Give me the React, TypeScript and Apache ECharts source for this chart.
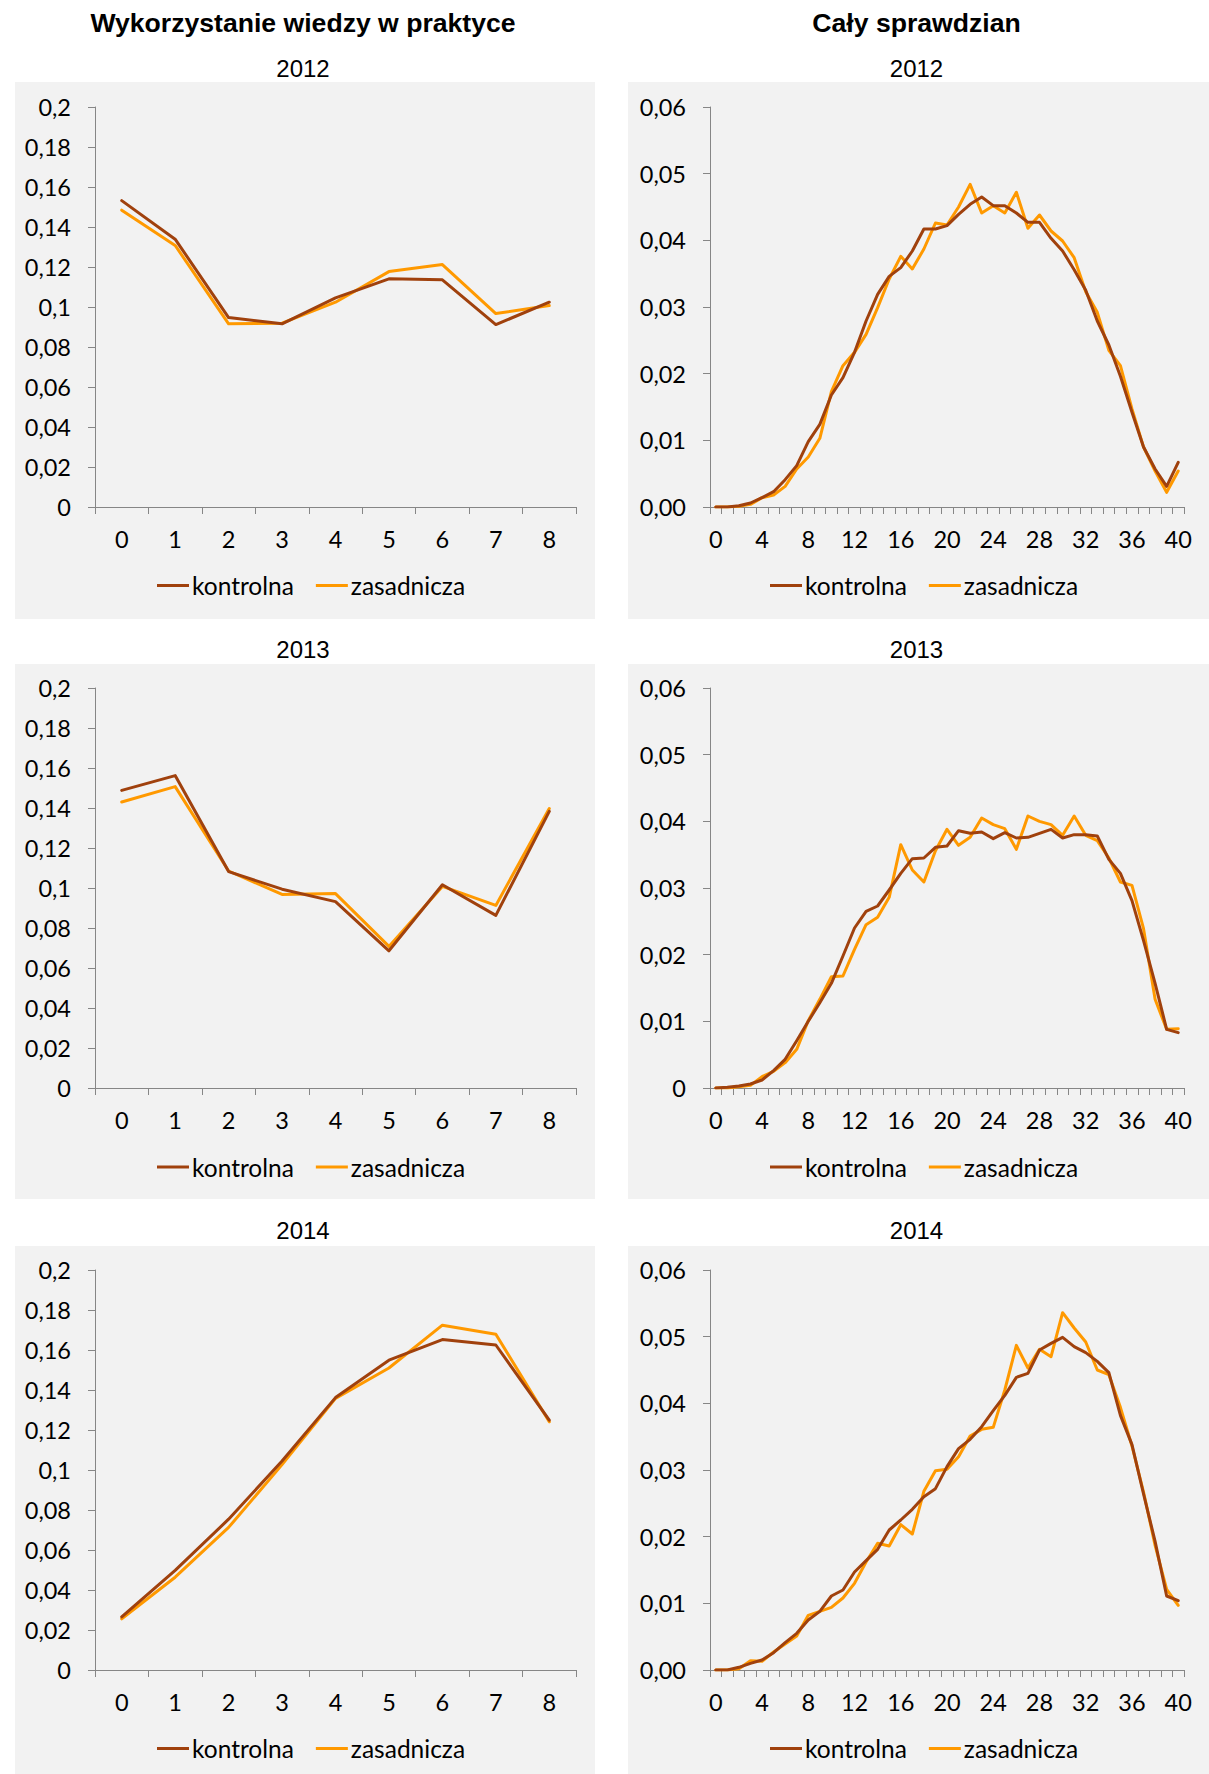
import React, { useEffect, useRef } from "react";
import * as echarts from "echarts";

// ---------- DATA ----------
const CAT_LEFT = ["0", "1", "2", "3", "4", "5", "6", "7", "8"];
const CAT_RIGHT = [
  "0", "1", "2", "3", "4", "5", "6", "7", "8", "9", "10", "11", "12", "13", "14", "15", "16", "17", "18", "19", "20",
  "21", "22", "23", "24", "25", "26", "27", "28", "29", "30", "31", "32", "33", "34", "35", "36", "37", "38", "39", "40",
];

const Y_LABELS_LEFT = ["0", "0,02", "0,04", "0,06", "0,08", "0,1", "0,12", "0,14", "0,16", "0,18", "0,2"];
const Y_LABELS_RIGHT_FIXED = ["0,00", "0,01", "0,02", "0,03", "0,04", "0,05", "0,06"];
const Y_LABELS_RIGHT_GENERAL = ["0", "0,01", "0,02", "0,03", "0,04", "0,05", "0,06"];

const SERIES_NAMES = ["kontrolna", "zasadnicza"];
const COL_TITLES = ["Wykorzystanie wiedzy w praktyce", "Cały sprawdzian"];
const YEARS = ["2012", "2013", "2014"];

// Wykorzystanie wiedzy w praktyce
const L2012_K = [0.1532, 0.1339, 0.0947, 0.0916, 0.1046, 0.1141, 0.1136, 0.0912, 0.1024];
const L2012_Z = [0.1484, 0.1308, 0.0916, 0.0919, 0.1024, 0.1177, 0.1212, 0.0967, 0.1007];
const L2013_K = [0.1488, 0.1562, 0.1082, 0.0994, 0.0932, 0.0686, 0.1016, 0.0863, 0.1383];
const L2013_Z = [0.143, 0.1507, 0.1085, 0.0968, 0.0972, 0.0708, 0.1008, 0.0913, 0.1397];
const L2014_K = [0.0266, 0.0498, 0.0754, 0.1045, 0.1362, 0.1549, 0.1652, 0.1625, 0.1249];
const L2014_Z = [0.0256, 0.0464, 0.0713, 0.1027, 0.1358, 0.151, 0.1724, 0.1679, 0.1241];

// Cały sprawdzian
const R2012_K = [
  0, 0, 0.0002, 0.0006, 0.0014, 0.0023, 0.0041, 0.0062, 0.0098, 0.0124, 0.0168, 0.0194, 0.0232, 0.0279, 0.0319,
  0.0346, 0.0359, 0.0384, 0.0417, 0.0417, 0.0422, 0.0439, 0.0454, 0.0465, 0.0452, 0.0452, 0.0441, 0.0427, 0.0427,
  0.0403, 0.0384, 0.0356, 0.0325, 0.0279, 0.0243, 0.0196, 0.0142, 0.009, 0.0057, 0.0031, 0.0067,
];
const R2012_Z = [
  0, 0, 0.0001, 0.0004, 0.0014, 0.0018, 0.0031, 0.0057, 0.0075, 0.0103, 0.0173, 0.0212, 0.0232, 0.0259, 0.0299,
  0.0342, 0.0376, 0.0357, 0.0387, 0.0426, 0.0423, 0.045, 0.0484, 0.0441, 0.0452, 0.0441, 0.0472, 0.0418, 0.0438,
  0.0414, 0.0399, 0.0374, 0.0323, 0.0292, 0.0235, 0.0212, 0.0147, 0.009, 0.0054, 0.0022, 0.0054,
];
const R2013_K = [
  0, 0.0001, 0.0003, 0.0006, 0.0012, 0.0026, 0.0043, 0.0071, 0.01, 0.0128, 0.0157, 0.0198, 0.024, 0.0265, 0.0273,
  0.0297, 0.0322, 0.0344, 0.0345, 0.0361, 0.0363, 0.0386, 0.0382, 0.0384, 0.0374, 0.0383, 0.0375, 0.0376, 0.0382,
  0.0388, 0.0375, 0.038, 0.038, 0.0378, 0.0343, 0.0322, 0.0281, 0.0221, 0.0157, 0.0088, 0.0083,
];
const R2013_Z = [
  0, 0, 0.0002, 0.0004, 0.0017, 0.0025, 0.0038, 0.0058, 0.0101, 0.0133, 0.0167, 0.0168, 0.0208, 0.0245, 0.0256,
  0.0286, 0.0365, 0.0327, 0.0309, 0.0356, 0.0388, 0.0364, 0.0376, 0.0405, 0.0395, 0.0389, 0.0358, 0.0408, 0.04,
  0.0395, 0.0379, 0.0408, 0.0379, 0.0371, 0.0345, 0.0309, 0.0304, 0.0239, 0.0133, 0.0088, 0.0089,
];
const R2014_K = [
  0, 0, 0.0004, 0.001, 0.0015, 0.0026, 0.0041, 0.0055, 0.0075, 0.0088, 0.0111, 0.012, 0.0147, 0.0164, 0.0181,
  0.021, 0.0225, 0.0241, 0.026, 0.0272, 0.0305, 0.0332, 0.0346, 0.0365, 0.0389, 0.0412, 0.0439, 0.0445, 0.048,
  0.049, 0.0499, 0.0485, 0.0476, 0.0463, 0.0446, 0.0382, 0.0338, 0.0264, 0.0193, 0.0111, 0.0104,
];
const R2014_Z = [
  0, 0, 0.0002, 0.0014, 0.0013, 0.0027, 0.0039, 0.0051, 0.0082, 0.0088, 0.0094, 0.0108, 0.013, 0.0162, 0.019,
  0.0186, 0.0218, 0.0204, 0.0268, 0.0299, 0.0301, 0.032, 0.0351, 0.0361, 0.0364, 0.042, 0.0487, 0.0453, 0.0481,
  0.047, 0.0536, 0.0513, 0.0492, 0.045, 0.0443, 0.0394, 0.0336, 0.0267, 0.0187, 0.0121, 0.0097,
];

// ---------- STYLE / LAYOUT ----------
const COLORS = ["#A0410D", "#FF9900"];
const AXIS_COLOR = "#868686";
const PANEL_BG = "#F2F2F2";
const FONT = "Lato";
const W = 1209;
const H = 1774;

const ROW_GRID_TOP = [107, 688, 1270];
const GRID_H = 400;
const COL_GRID = [
  { left: 95, width: 481 },
  { left: 710, width: 474 },
];
const PANEL_X = [
  { x: 15, w: 580 },
  { x: 628, w: 581 },
];
const PANEL_ROWS = [
  { y: 82, h: 537 },
  { y: 664, h: 535 },
  { y: 1246, h: 528 },
];
const YEAR_Y = [68, 649, 1230];
const LEGEND_TOP = [568, 1149.5, 1731];
const LEGEND_LEFT = [152, 765];

const PANELS = [
  { col: 0, row: 0, cats: CAT_LEFT, k: L2012_K, z: L2012_Z, max: 0.2, interval: 0.02, labels: Y_LABELS_LEFT },
  { col: 1, row: 0, cats: CAT_RIGHT, k: R2012_K, z: R2012_Z, max: 0.06, interval: 0.01, labels: Y_LABELS_RIGHT_FIXED },
  { col: 0, row: 1, cats: CAT_LEFT, k: L2013_K, z: L2013_Z, max: 0.2, interval: 0.02, labels: Y_LABELS_LEFT },
  { col: 1, row: 1, cats: CAT_RIGHT, k: R2013_K, z: R2013_Z, max: 0.06, interval: 0.01, labels: Y_LABELS_RIGHT_GENERAL },
  { col: 0, row: 2, cats: CAT_LEFT, k: L2014_K, z: L2014_Z, max: 0.2, interval: 0.02, labels: Y_LABELS_LEFT },
  { col: 1, row: 2, cats: CAT_RIGHT, k: R2014_K, z: R2014_Z, max: 0.06, interval: 0.01, labels: Y_LABELS_RIGHT_FIXED },
];

function buildOption() {
  const grid: any[] = [];
  const xAxis: any[] = [];
  const yAxis: any[] = [];
  const series: any[] = [];
  const legend: any[] = [];
  const graphic: any[] = [];

  // panel backgrounds
  PANEL_ROWS.forEach((r) => {
    PANEL_X.forEach((c) => {
      graphic.push({
        type: "rect",
        silent: true,
        z: -10,
        shape: { x: c.x, y: r.y, width: c.w, height: r.h },
        style: { fill: PANEL_BG },
      });
    });
  });

  // column titles
  COL_TITLES.forEach((t, i) => {
    graphic.push({
      type: "text",
      x: PANEL_X[i].x + PANEL_X[i].w / 2 - 2,
      y: 23,
      style: {
        text: t,
        fill: "#000",
        font: `bold 26.6px "Liberation Sans", Arial, sans-serif`,
        textAlign: "center",
        textVerticalAlign: "middle",
      },
    });
  });

  // year subtitles
  YEARS.forEach((yr, r) => {
    PANEL_X.forEach((c) => {
      graphic.push({
        type: "text",
        x: c.x + c.w / 2 - 2,
        y: YEAR_Y[r],
        style: {
          text: yr,
          fill: "#000",
          font: `24px "Liberation Sans", Arial, sans-serif`,
          textAlign: "center",
          textVerticalAlign: "middle",
        },
      });
    });
  });

  PANELS.forEach((p, i) => {
    const g = COL_GRID[p.col];
    grid.push({ left: g.left, width: g.width, top: ROW_GRID_TOP[p.row], height: GRID_H, containLabel: false });
    const isRight = p.col === 1;
    xAxis.push({
      type: "category",
      gridIndex: i,
      data: p.cats,
      boundaryGap: true,
      axisLine: { show: true, lineStyle: { color: AXIS_COLOR, width: 1 } },
      axisTick: { show: true, interval: 0, length: 7, lineStyle: { color: AXIS_COLOR } },
      axisLabel: {
        interval: isRight ? 3 : 0,
        color: "#000",
        fontFamily: FONT,
        fontSize: 23.5,
        margin: 20,
      },
      splitLine: { show: false },
    });
    const labels = p.labels;
    const interval = p.interval;
    yAxis.push({
      type: "value",
      gridIndex: i,
      min: 0,
      max: p.max,
      interval: interval,
      axisLine: { show: true, lineStyle: { color: AXIS_COLOR, width: 1 } },
      axisTick: { show: true, length: 7, lineStyle: { color: AXIS_COLOR } },
      axisLabel: {
        color: "#000",
        fontFamily: FONT,
        fontSize: 23.5,
        margin: 24,
        formatter: (v: number) => labels[Math.round(v / interval)] ?? "",
      },
      splitLine: { show: false },
    });
    [p.k, p.z].forEach((d, s) => {
      series.push({
        type: "line",
        name: SERIES_NAMES[s],
        xAxisIndex: i,
        yAxisIndex: i,
        data: d,
        showSymbol: false,
        symbol: "none",
        lineStyle: { color: COLORS[s], width: 3, join: "round", cap: "round" },
        itemStyle: { color: COLORS[s] },
        z: s === 0 ? 3 : 2,
      });
    });
    legend.push({
      left: LEGEND_LEFT[p.col],
      top: LEGEND_TOP[p.row],
      orient: "horizontal",
      data: SERIES_NAMES.map((n) => ({ name: n, icon: "rect" })),
      itemWidth: 32,
      itemHeight: 3,
      itemGap: 22,
      selectedMode: false,
      textStyle: { fontFamily: FONT, fontSize: 24.5, color: "#000", padding: [0, 0, 0, -2] },
    });
  });

  return {
    animation: false,
    backgroundColor: "#FFFFFF",
    color: COLORS,
    grid,
    xAxis,
    yAxis,
    series,
    legend,
    graphic,
  };
}

export default function App() {
  const ref = useRef<HTMLDivElement | null>(null);
  useEffect(() => {
    document.body.style.margin = "0";
    if (!ref.current) return;
    const chart = echarts.init(ref.current, undefined, { renderer: "svg", width: W, height: H });
    chart.setOption(buildOption() as any);
    return () => {
      chart.dispose();
    };
  }, []);
  return <div ref={ref} style={{ width: W, height: H }} />;
}
